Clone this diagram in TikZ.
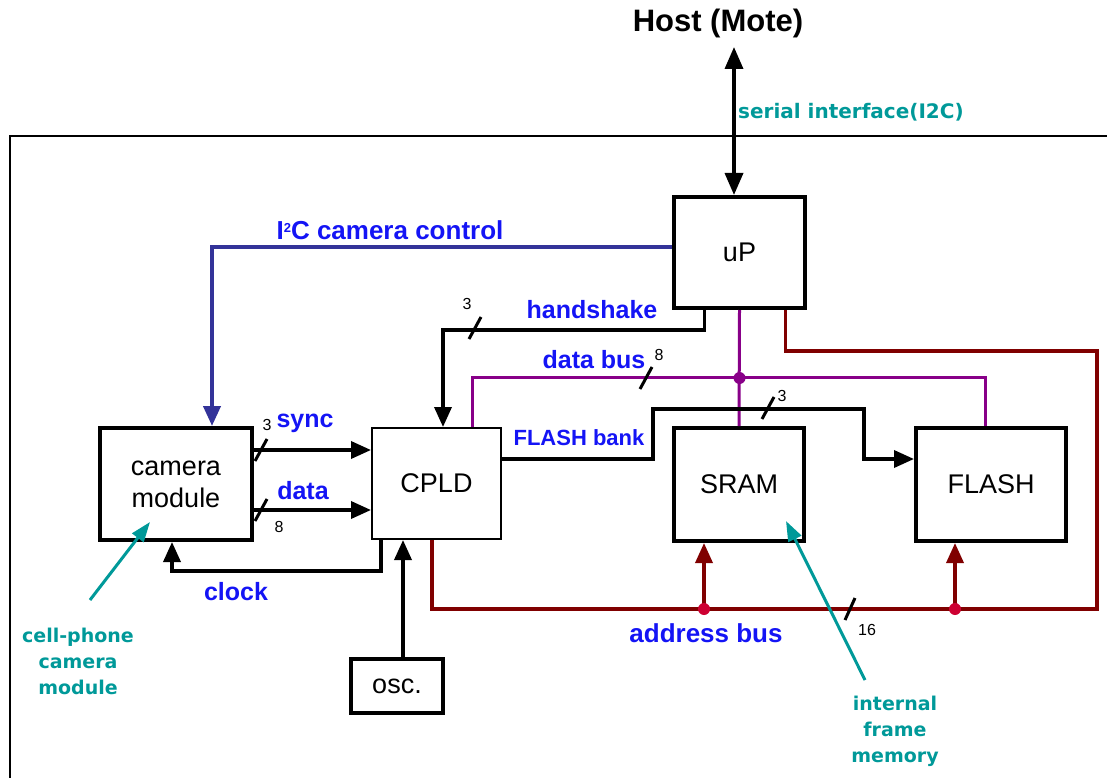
\documentclass[tikz,border=0pt]{standalone}
\usepackage{fontspec}
\setmainfont{Liberation Sans}
\newfontfamily\annofont{DejaVu Sans}
\usetikzlibrary{arrows.meta,calc}
\definecolor{lblue}{RGB}{20,20,245}
\definecolor{ictl}{RGB}{51,51,153}
\definecolor{pbus}{RGB}{136,0,136}
\definecolor{abus}{RGB}{128,0,0}
\definecolor{adot}{RGB}{205,0,50}
\definecolor{anno}{RGB}{0,153,153}
\begin{document}
\begin{tikzpicture}[x=1pt,y=-1pt,
  blk/.style={draw,line width=4pt,inner sep=0pt,align=center,font=\fontsize{27}{32}\selectfont},
  lbl/.style={text=lblue,font=\bfseries\fontsize{25}{28}\selectfont,inner sep=0pt},
  num/.style={font=\fontsize{16}{18}\selectfont,inner sep=0pt},
  ann/.style={text=anno,font=\annofont\bfseries\fontsize{19}{26}\selectfont,align=center,inner sep=0pt},
  tip/.style={-{Triangle[length=20pt,width=17pt]}},
  wire/.style={line width=3.5pt},
  slash/.style={line width=3pt},
  pbusl/.style={draw=pbus,line width=3pt},
  abusl/.style={draw=abus,line width=3.5pt},
  annarrow/.style={draw=anno,line width=3pt,-{Triangle[length=20pt,width=14pt]}}]
\useasboundingbox (0,0) rectangle (1107,778);
% frame
\draw[line width=2.5pt] (1107,136) -- (10,136) -- (10,778);
% boxes
\node[blk,minimum width=131pt,minimum height=111pt] (up) at (739.5,252.5) {uP};
\node[blk,minimum width=152pt,minimum height=112pt] (cam) at (176,484) {camera\\module};
\node[blk,line width=2pt,minimum width=129pt,minimum height=111pt] (cpld) at (436.5,483.5) {CPLD};
\node[blk,minimum width=130pt,minimum height=113pt] (sram) at (739,484.5) {SRAM};
\node[blk,minimum width=150pt,minimum height=113pt] (flash) at (991,484.5) {FLASH};
\node[blk,minimum width=92pt,minimum height=54pt] (osc) at (397,686) {osc.};
% host
\node[font=\bfseries\fontsize{31}{34}\selectfont,inner sep=0pt] (host) at (718,23) {Host (Mote)};
\coordinate (ht) at (734,47);
\draw[wire,{Triangle[length=22pt,width=18pt]}-{Triangle[length=22pt,width=18pt]}] (ht) -- (ht |- up.north);
\node[ann,font=\annofont\bfseries\fontsize{20}{24}\selectfont,anchor=west] (ser) at (738,112) {serial interface(I2C)};
% I2C control
\draw[draw=ictl,line width=4pt,tip] ([yshift=5.5pt]up.west) -| ([xshift=36pt]cam.north);
\node[lbl,font=\bfseries\fontsize{26}{28}\selectfont] (i2cl) at (390,230) {I\raisebox{7pt}{\fontsize{13}{13}\selectfont 2}C camera control};
% handshake
\draw[wire,tip] ([xshift=-35pt]up.south) -- ++(0,20) -| ([xshift=6.5pt]cpld.north);
\node[lbl] (hsl) at (592,310) {handshake};
\draw[slash] (469,339) -- (481,317);
\node[num] (hsn) at (467,304) {3};
% data bus
\draw[pbusl] (up.south) -- (sram.north);
\draw[pbusl] ([xshift=35.5pt]cpld.north) -- ++(0,-50) -| ([xshift=-6pt]flash.north);
\fill[pbus] (up.south |- 0,378) circle (6pt);
\draw[slash] (640,389) -- (652,367);
\node[num] (dbn) at (659,355) {8};
\node[lbl] (dbl) at (594,360) {data bus};
% address bus
\coordinate (ar) at (1097,609);
\draw[abusl] ([xshift=46pt]up.south) -- ++(0,41) -| (ar) -| ([xshift=-4.5pt]cpld.south);
\draw[abusl,tip] ([xshift=-35pt]sram.south |- ar) -- ([xshift=-35pt]sram.south);
\draw[abusl,tip] ([xshift=-36pt]flash.south |- ar) -- ([xshift=-36pt]flash.south);
\fill[adot] ([xshift=-35pt]sram.south |- ar) circle (6pt);
\fill[adot] ([xshift=-36pt]flash.south |- ar) circle (6pt);
\draw[slash] (845,620) -- (855,598);
\node[num] (abn) at (867,630) {16};
\node[lbl,font=\bfseries\fontsize{26}{28}\selectfont] (abl) at (706,633) {address bus};
% FLASH bank
\coordinate (fb1) at (653,409);
\coordinate (fb2) at (864,409);
\draw[wire,tip] ([yshift=24.5pt]cpld.east) -| (fb1) -- (fb2) |- ([yshift=25.5pt]flash.west);
\draw[slash] (762,419) -- (774,397);
\node[num] (fbn) at (782,396) {3};
\node[lbl,font=\bfseries\fontsize{22}{24}\selectfont] (fbl) at (579,438) {FLASH bank};
% sync / data
\draw[wire,tip] ([yshift=34pt]cam.east) -- ([yshift=33.5pt]cpld.west);
\draw[wire,tip] ([yshift=-26pt]cam.east) -- ([yshift=-26.5pt]cpld.west);
\draw[slash] (255,461) -- (267,439);
\draw[slash] (255,521) -- (267,499);
\node[num] (syn) at (267,425) {3};
\node[num] (dan) at (279,527) {8};
\node[lbl] (syl) at (305,423) {sync};
\node[lbl] (dal) at (303,491) {data};
% clock
\draw[wire,tip] ([xshift=-55.5pt]cpld.south) -- ++(0,31) -| ([xshift=-4pt]cam.south);
\node[lbl] (ckl) at (236,592) {clock};
% osc
\draw[wire,tip] ([xshift=6pt]osc.north) -- ([xshift=6pt]osc.north |- cpld.south);
% annotations
\node[ann] (cpa) at (78,661) {cell-phone\\camera\\module};
\draw[annarrow] (90,600) -- (150,522);
\node[ann] (ifa) at (895,731) {internal\\frame\\memory};
\draw[annarrow] (865,680) -- (786,521);
\end{tikzpicture}
\end{document}
